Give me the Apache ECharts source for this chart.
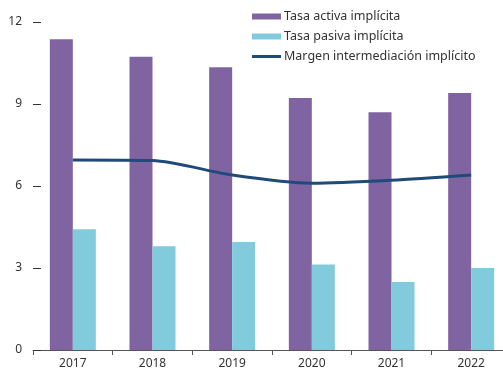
<!DOCTYPE html>
<html>
<head>
<meta charset="utf-8">
<script src="https://cdn.jsdelivr.net/npm/echarts@6/dist/echarts.min.js"></script>
<style>
  html, body { margin: 0; padding: 0; background: #fff; }
  #chart { width: 503px; height: 369px; }
</style>
</head>
<body>
<div id="chart"></div>
<script>
// Years on the category axis
const years = ['2017', '2018', '2019', '2020', '2021', '2022'];
// Implicit lending rate (%)
const tasaActiva = [11.37, 10.73, 10.34, 9.22, 8.70, 9.40];
// Implicit deposit rate (%)
const tasaPasiva = [4.42, 3.80, 3.95, 3.13, 2.49, 3.00];
// Implicit intermediation margin (%)
const margen = [6.95, 6.93, 6.40, 6.10, 6.21, 6.40];
// Value axis ticks
const yTicks = [0, 3, 6, 9, 12];

const FONT = 'Noto Sans';
const chart = echarts.init(document.getElementById('chart'), null, { renderer: 'canvas' });

chart.setOption({
  animation: false,
  textStyle: { fontFamily: FONT },
  // plot area runs slightly past the right edge of the canvas
  grid: { left: 33, width: 478, top: 22, bottom: 19, containLabel: false, outerBoundsMode: 'none' },
  legend: {
    orient: 'vertical',
    left: 252,
    top: 10,
    itemGap: 7,
    itemWidth: 29,
    itemHeight: 6,
    padding: 0,
    textStyle: { fontFamily: FONT, fontSize: 12.5, color: '#333', padding: [0, 0, 0, -2] },
    data: [
      { name: 'Tasa activa implícita', icon: 'rect' },
      { name: 'Tasa pasiva implícita', icon: 'rect' },
      { name: 'Margen intermediación implícito', icon: 'path://M0,0H29V3H0Z' }
    ]
  },
  xAxis: {
    type: 'category',
    data: years,
    axisLine: { lineStyle: { color: '#555', width: 1 } },
    axisTick: { show: true, length: 5, lineStyle: { color: '#555' } },
    axisLabel: { color: '#333', fontSize: 12, margin: 8, fontFamily: FONT }
  },
  yAxis: {
    type: 'value',
    min: yTicks[0],
    max: yTicks[yTicks.length - 1],
    interval: 3,
    axisLine: { show: false },
    axisTick: { show: true, inside: true, length: 8, lineStyle: { color: '#333' } },
    splitLine: { show: false },
    axisLabel: { color: '#333', fontSize: 12, margin: 11, fontFamily: FONT }
  },
  series: [
    {
      name: 'Tasa activa implícita',
      type: 'bar',
      data: tasaActiva,
      barWidth: 23,
      barGap: '0%',
      itemStyle: { color: '#8064a2' }
    },
    {
      name: 'Tasa pasiva implícita',
      type: 'bar',
      data: tasaPasiva,
      barWidth: 23,
      barGap: '0%',
      itemStyle: { color: '#82cbdd' }
    },
    {
      name: 'Margen intermediación implícito',
      type: 'line',
      data: margen,
      smooth: 0.25,
      symbol: 'none',
      lineStyle: { color: '#1f4a7a', width: 3 },
      itemStyle: { color: '#1f4a7a' },
      z: 5
    }
  ]
});
</script>
</body>
</html>
